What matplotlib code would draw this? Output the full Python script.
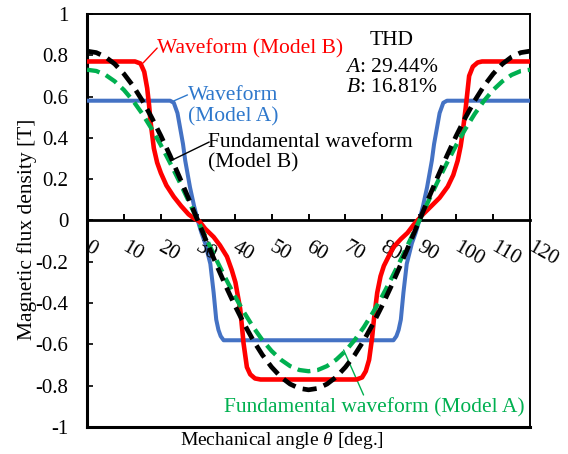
"""Flux density waveforms of the two models with their fundamentals."""

import matplotlib
matplotlib.use("Agg")
import matplotlib.pyplot as plt
from matplotlib.lines import Line2D
from matplotlib.transforms import ScaledTranslation

# Waveform (Model A): trapezoid
theta_a = [0, 22.5, 23.5, 24.5, 25.2, 26, 26.6, 27.3, 27.9, 29, 30, 31, 32,
           33.4, 34.3, 35, 35.6, 36.2, 37, 38, 82, 83, 83.8, 84.4, 85, 85.7,
           86.6, 88, 89, 90, 91, 92.1, 92.7, 93.4, 94, 94.8, 95.5, 96.5, 97.5,
           120]
flux_a = [0.58, 0.58, 0.57, 0.52, 0.45, 0.37, 0.29, 0.22, 0.16, 0.07, 0.0,
          -0.06, -0.11, -0.21, -0.35, -0.48, -0.53, -0.56, -0.58, -0.58, -0.58,
          -0.58, -0.56, -0.53, -0.48, -0.35, -0.21, -0.11, -0.06, 0.0, 0.07,
          0.16, 0.22, 0.29, 0.37, 0.45, 0.52, 0.57, 0.58, 0.58]

# Waveform (Model B)
theta_b = [0, 13, 14.5, 15.5, 16.3, 16.8, 17.2, 18.1, 19, 20, 21.5, 23.5, 25.5,
           27.5, 29, 30.5, 32, 34.3, 36, 37.9, 39.2, 40.2, 41, 41.5, 42, 42.4,
           43.3, 44.2, 45.5, 47, 73, 74.5, 75.5, 76.4, 77.2, 77.7, 78.6, 79.5,
           80.4, 81.8, 83.1, 85, 86.8, 88.5, 89.5, 91, 93.1, 95.5, 97.7, 99.2,
           100.4, 101.2, 101.7, 102.6, 103.5, 104.5, 105.8, 107, 120]
flux_b = [0.77, 0.77, 0.76, 0.72, 0.64, 0.56, 0.48, 0.35, 0.28, 0.23, 0.17,
          0.115, 0.07, 0.03, 0.01, -0.005, -0.04, -0.08, -0.12, -0.175, -0.24,
          -0.30, -0.38, -0.43, -0.52, -0.595, -0.71, -0.745, -0.765, -0.77,
          -0.77, -0.76, -0.73, -0.675, -0.57, -0.48, -0.35, -0.27, -0.22,
          -0.17, -0.127, -0.09, -0.06, -0.02, 0.0, 0.03, 0.067, 0.11, 0.164,
          0.22, 0.29, 0.36, 0.42, 0.55, 0.70, 0.745, 0.765, 0.77, 0.77]

# Fundamentals, sampled every 2.5 deg
theta_fund = [0, 2.5, 5, 7.5, 10, 12.5, 15, 17.5, 20, 22.5, 25, 27.5, 30,
              32.5, 35, 37.5, 40, 42.5, 45, 47.5, 50, 52.5, 55, 57.5, 60,
              62.5, 65, 67.5, 70, 72.5, 75, 77.5, 80, 82.5, 85, 87.5, 90,
              92.5, 95, 97.5, 100, 102.5, 105, 107.5, 110, 112.5, 115, 117.5,
              120]
fund_a = [0.730, 0.724, 0.705, 0.674, 0.632, 0.579, 0.516, 0.444, 0.365,
          0.279, 0.189, 0.095, 0.0, -0.095, -0.189, -0.279, -0.365, -0.444,
          -0.516, -0.579, -0.632, -0.674, -0.705, -0.724, -0.730, -0.724,
          -0.705, -0.674, -0.632, -0.579, -0.516, -0.444, -0.365, -0.279,
          -0.189, -0.095, 0.0, 0.095, 0.189, 0.279, 0.365, 0.444, 0.516,
          0.579, 0.632, 0.674, 0.705, 0.724, 0.730]
fund_b = [0.820, 0.813, 0.792, 0.758, 0.710, 0.651, 0.580, 0.499, 0.410,
          0.314, 0.212, 0.107, 0.0, -0.107, -0.212, -0.314, -0.410, -0.499,
          -0.580, -0.651, -0.710, -0.758, -0.792, -0.813, -0.820, -0.813,
          -0.792, -0.758, -0.710, -0.651, -0.580, -0.499, -0.410, -0.314,
          -0.212, -0.107, 0.0, 0.107, 0.212, 0.314, 0.410, 0.499, 0.580,
          0.651, 0.710, 0.758, 0.792, 0.813, 0.820]

x_ticks = [0, 10, 20, 30, 40, 50, 60, 70, 80, 90, 100, 110, 120]
y_ticks = [-1, -0.8, -0.6, -0.4, -0.2, 0, 0.2, 0.4, 0.6, 0.8, 1]
y_labels = ["-1", "-0.8", "-0.6", "-0.4", "-0.2", "0", "0.2", "0.4", "0.6",
            "0.8", "1"]
thd_a = 29.44
thd_b = 16.81

plt.rcParams["font.family"] = ["Liberation Serif", "DejaVu Serif"]
plt.rcParams["mathtext.fontset"] = "custom"
plt.rcParams["mathtext.rm"] = "Liberation Serif"
plt.rcParams["mathtext.it"] = "Liberation Serif:italic"
plt.rcParams["axes.unicode_minus"] = False

BLUE = "#4472C4"
BLUE_TXT = "#2E78CC"
RED = "#FF0000"
GREEN = "#00B050"
FS_TICK = 15
FS_NOTE = 15.5

fig = plt.figure(figsize=(5.68, 4.54), dpi=100)
ax = fig.add_axes([0.1532, 0.0595, 0.780, 0.9097])

ax.plot(theta_a, flux_a, color=BLUE, lw=2.9, solid_joinstyle="round", zorder=3)
ax.plot(theta_b, flux_b, color=RED, lw=3.3, solid_joinstyle="round", zorder=4)
ax.plot(theta_fund, fund_a, color=GREEN, lw=3.1, dashes=(3.0, 1.6), zorder=5)
ax.plot(theta_fund, fund_b, color="black", lw=3.4, dashes=(3.0, 1.6), zorder=6)

ax.set_xlim(0, 120)
ax.set_ylim(-1, 1)

# horizontal axis crosses at zero, plot-area border around everything
ax.spines["bottom"].set_position(("data", 0))
ax.spines["bottom"].set_linewidth(2.0)
ax.spines["left"].set_linewidth(2.2)
ax.spines["top"].set_linewidth(1.4)
ax.spines["right"].set_linewidth(1.4)
ax.add_line(Line2D([0, 1], [0, 0], transform=ax.transAxes, color="black",
                   lw=2.2, clip_on=False, zorder=7))

ax.set_yticks(y_ticks)
ax.set_yticklabels(y_labels, fontsize=FS_TICK)
ax.tick_params(axis="y", direction="in", length=4, width=1.2, pad=13.5)

ax.set_xticks(x_ticks)
ax.set_xticklabels([])
ax.tick_params(axis="x", direction="in", length=4.5, width=1.4)
lab_off = ScaledTranslation(-1 / 100, -26 / 100, fig.dpi_scale_trans)
for t in x_ticks:
    ax.text(t, 0, str(t), transform=ax.transData + lab_off, fontsize=FS_TICK,
            rotation=-30, rotation_mode="anchor", ha="left", va="center")

fig.text(0.497, 0.029, r"Mechanical angle $\theta$ [deg.]", fontsize=14,
         ha="center", va="center")
fig.text(0.0475, 0.4956, "Magnetic flux density [T]", fontsize=FS_NOTE,
         rotation=90, ha="center", va="center")


def leader(xy_text, xy_curve, color):
    ax.annotate("", xy=xy_curve, xytext=xy_text,
                arrowprops=dict(arrowstyle="-", color=color, lw=1.0,
                                shrinkA=0, shrinkB=0))


# series labels with leader lines
ax.text(19.0, 0.83, "Waveform (Model B)", color=RED, fontsize=FS_NOTE,
        ha="left", va="center")
leader((19.0, 0.835), (15.2, 0.763), RED)

ax.text(39.5, 0.552, "Waveform\n(Model A)", color=BLUE_TXT, fontsize=FS_NOTE,
        ha="center", va="center", multialignment="center", linespacing=1.15)
leader((27.2, 0.608), (23.5, 0.579), BLUE_TXT)

ax.text(32.85, 0.327, "Fundamental waveform\n(Model B)", color="black",
        fontsize=FS_NOTE, ha="left", va="center", linespacing=1.1)
leader((33.1, 0.38), (23.1, 0.293), "black")

ax.text(77.9, -0.908, "Fundamental waveform (Model A)", color=GREEN,
        fontsize=FS_NOTE, ha="center", va="center")
leader((74.9, -0.845), (69.5, -0.627), GREEN)

# total harmonic distortion
ax.text(82.5, 0.874, "THD", fontsize=FS_NOTE, ha="center", va="center")
ax.text(82.5, 0.743, rf"$\mathit{{A}}$: {thd_a:.2f}%", fontsize=FS_NOTE,
        ha="center", va="center")
ax.text(82.5, 0.642, rf"$\mathit{{B}}$: {thd_b:.2f}%", fontsize=FS_NOTE,
        ha="center", va="center")

fig.savefig("out.png", dpi=100)
